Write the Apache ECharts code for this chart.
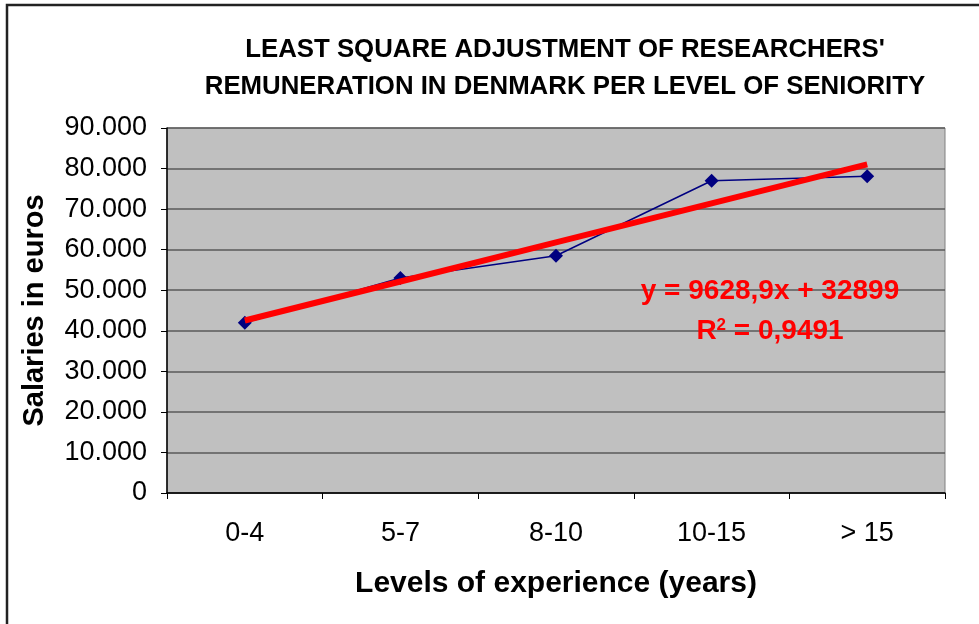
<!DOCTYPE html>
<html><head><meta charset="utf-8">
<script src="https://cdn.jsdelivr.net/npm/echarts@6/dist/echarts.min.js"></script>
<style>html,body{margin:0;padding:0;background:#fff}#c{width:979px;height:624px}</style>
</head><body><div id="c"></div>
<script>
const categories = ['0-4', '5-7', '8-10', '10-15', '> 15'];
const salaries = [42000, 53000, 58500, 77000, 78100];
const trendValues = [42528, 52157, 61786, 71415, 81044];
const yTicks = [0, 90000, 10000];
const titleLines = ["LEAST SQUARE ADJUSTMENT OF RESEARCHERS'", "REMUNERATION IN DENMARK PER LEVEL OF SENIORITY"];
const equationText = 'y = 9628,9x + 32899';
const r2Text = '0,9491';

const chart = echarts.init(document.getElementById('c'), null, {renderer: 'canvas'});
const font = '"Liberation Sans", Arial, sans-serif';
chart.setOption({
  animation: false,
  backgroundColor: '#fff',
  title: {
    text: titleLines.join('\n'),
    left: 560, top: 26, textAlign: 'center',
    textStyle: {fontFamily: font, fontWeight: 'bold', fontSize: 25.8, lineHeight: 37, color: '#000'}
  },
  grid: {left: 167, right: 34, top: 128, bottom: 131, show: true, backgroundColor: '#c0c0c0', borderColor: '#808080', borderWidth: 1},
  xAxis: {
    type: 'category', data: categories, boundaryGap: true,
    name: 'Levels of experience (years)', nameLocation: 'middle', nameGap: 76,
    nameTextStyle: {fontFamily: font, fontWeight: 'bold', fontSize: 30, color: '#000'},
    axisLine: {lineStyle: {color: '#000', width: 1.5}},
    axisTick: {show: true, length: 6, lineStyle: {color: '#000'}},
    axisLabel: {fontFamily: font, fontSize: 27, color: '#000', margin: 27}
  },
  yAxis: {
    type: 'value', min: yTicks[0], max: yTicks[1], interval: yTicks[2],
    name: 'Salaries in euros', nameLocation: 'middle', nameGap: 118, nameRotate: 90,
    nameTextStyle: {fontFamily: font, fontWeight: 'bold', fontSize: 29, color: '#000'},
    axisLine: {show: true, lineStyle: {color: '#000', width: 1.5}},
    axisTick: {show: true, length: 6, lineStyle: {color: '#000'}},
    axisLabel: {fontFamily: font, fontSize: 27, color: '#000', margin: 20,
      formatter: v => v === 0 ? '0' : (v / 1000).toFixed(0) + '.000'},
    splitLine: {show: true, lineStyle: {color: '#5a5a5a', width: 1.5}}
  },
  series: [
    {type: 'line', data: salaries, symbol: 'diamond', symbolSize: 14,
      itemStyle: {color: '#000080'}, lineStyle: {color: '#000080', width: 1.5}, z: 3},
    {type: 'line', data: trendValues, symbol: 'none',
      lineStyle: {color: '#ff0000', width: 6}, z: 4}
  ],
  graphic: [
    {type: 'rect', shape: {x: 7, y: 5, width: 1100, height: 800}, style: {fill: 'none', stroke: '#222', lineWidth: 2.5}, z: 100},
    {type: 'text', x: 770, y: 291, z: 100, style: {text: equationText, align: 'center', verticalAlign: 'middle', fill: '#ff0000', font: 'bold 28px ' + font}},
    {type: 'text', x: 770, y: 331, z: 100, style: {
      text: '{a|R}{s|2}{a| = ' + r2Text + '}', align: 'center', verticalAlign: 'middle', fill: '#ff0000',
      rich: {a: {fill: '#ff0000', fontSize: 28, fontWeight: 'bold', fontFamily: font},
             s: {fill: '#ff0000', fontSize: 17, fontWeight: 'bold', fontFamily: font, verticalAlign: 'top', padding: [0, 0, 12, 0]}}
    }}
  ]
});
</script></body></html>
